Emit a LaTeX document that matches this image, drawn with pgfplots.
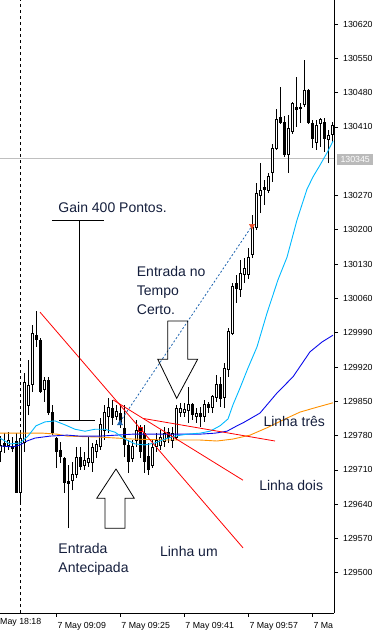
\documentclass[border=0pt]{standalone}
\usepackage{fontspec}
\setmainfont{Liberation Sans}
\usepackage{pgfplots}
\pgfplotsset{compat=1.18}
\definecolor{maCyan}{RGB}{0,185,255}
\definecolor{maBlue}{RGB}{10,10,235}
\definecolor{maOrange}{RGB}{255,145,0}
\definecolor{txt}{RGB}{20,30,60}
\definecolor{tradeblue}{RGB}{30,100,175}
\definecolor{sellred}{RGB}{232,80,45}
\begin{document}
\begin{tikzpicture}
\begin{axis}[name=ax, scale only axis, width=334pt, height=613pt,
  xmin=-0.075, xmax=83.425, ymin=129418, ymax=130669,
  axis x line*=bottom, axis y line*=right,
  axis line style={-, line width=0.8pt},
  tick align=outside, major tick length=4pt,
  tick style={black, line width=0.8pt},
  xtick={14,30,46,62,78},
  xticklabels={7 May 09:09,7 May 09:25,7 May 09:41,7 May 09:57,7 Ma},
  ytick={129500,129570,129640,129710,129780,129850,129920,129990,130060,130130,130200,130270,130410,130480,130550,130620},
  yticklabels={129500,129570,129640,129710,129780,129850,129920,129990,130060,130130,130200,130270,130410,130480,130550,130620},
  scaled y ticks=false, scaled x ticks=false,
  /pgf/number format/assume math mode=true,
  tick label style={font=\fontsize{8.8}{10}\selectfont},
  xticklabel style={anchor=base west, inner sep=0pt, xshift=1pt, yshift=-11.5pt},
  yticklabel style={anchor=west, inner sep=0pt, xshift=5pt},
  unbounded coords=jump]

% current price line and day separator
\addplot[black!25, line width=0.8pt] coordinates {(-0.075,130345)(83.425,130345)};
\addplot[black, line width=0.8pt, dash pattern=on 3pt off 3pt] coordinates {(5.05,129418)(5.05,130669)};

% wicks (low, high)
\addplot[black, line width=1pt] coordinates {
(0,129726)(0,129779)(0,nan)
(1,129745)(1,129785)(1,nan)
(2,129751)(2,129787)(2,nan)
(3,129747)(3,129777)(3,nan)
(4,129663)(4,129785)(4,nan)
(5,129645)(5,129787)(5,nan)
(6,129747)(6,129908)(6,nan)
(7,129822)(7,129934)(7,nan)
(8,129869)(8,130006)(8,nan)
(9,129961)(9,130034)(9,nan)
(10,129867)(10,129979)(10,nan)
(11,129849)(11,129900)(11,nan)
(12,129822)(12,129900)(12,nan)
(13,129781)(13,129842)(13,nan)
(14,129714)(14,129777)(14,nan)
(15,129724)(15,129767)(15,nan)
(16,129663)(16,129736)(16,nan)
(17,129591)(17,129720)(17,nan)
(18,129669)(18,129726)(18,nan)
(19,129693)(19,129757)(19,nan)
(20,129710)(20,129757)(20,nan)
(21,129710)(21,129747)(21,nan)
(22,129716)(22,129777)(22,nan)
(23,129706)(23,129765)(23,nan)
(24,129734)(24,129771)(24,nan)
(25,129751)(25,129816)(25,nan)
(26,129771)(26,129842)(26,nan)
(27,129785)(27,129857)(27,nan)
(28,129802)(28,129853)(28,nan)
(29,129812)(29,129842)(29,nan)
(30,129796)(30,129842)(30,nan)
(31,129736)(31,129842)(31,nan)
(32,129704)(32,129771)(32,nan)
(33,129726)(33,129771)(33,nan)
(34,129757)(34,129812)(34,nan)
(35,129734)(35,129802)(35,nan)
(36,129704)(36,129802)(36,nan)
(37,129700)(37,129765)(37,nan)
(38,129714)(38,129771)(38,nan)
(39,129747)(39,129785)(39,nan)
(40,129751)(40,129791)(40,nan)
(41,129757)(41,129798)(41,nan)
(42,129765)(42,129796)(42,nan)
(43,129755)(43,129798)(43,nan)
(44,129771)(44,129842)(44,nan)
(45,129818)(45,129847)(45,nan)
(46,129818)(46,129847)(46,nan)
(47,129806)(47,129879)(47,nan)
(48,129812)(48,129847)(48,nan)
(49,129806)(49,129836)(49,nan)
(50,129798)(50,129838)(50,nan)
(51,129808)(51,129853)(51,nan)
(52,129826)(52,129849)(52,nan)
(53,129826)(53,129863)(53,nan)
(54,129849)(54,129904)(54,nan)
(55,129838)(55,129900)(55,nan)
(56,129836)(56,129928)(56,nan)
(57,129900)(57,130000)(57,nan)
(58,129985)(58,130091)(58,nan)
(59,130051)(59,130108)(59,nan)
(60,130063)(60,130138)(60,nan)
(61,130091)(61,130142)(61,nan)
(62,130100)(62,130163)(62,nan)
(63,130142)(63,130230)(63,nan)
(64,130200)(64,130296)(64,nan)
(65,130234)(65,130336)(65,nan)
(66,130251)(66,130302)(66,nan)
(67,130275)(67,130316)(67,nan)
(68,130298)(68,130375)(68,nan)
(69,130363)(69,130447)(69,nan)
(70,130416)(70,130491)(70,nan)
(71,130349)(71,130432)(71,nan)
(72,130316)(72,130434)(72,nan)
(73,130396)(73,130461)(73,nan)
(74,130410)(74,130512)(74,nan)
(75,130418)(75,130459)(75,nan)
(76,130451)(76,130547)(76,nan)
(77,130416)(77,130487)(77,nan)
(78,130367)(78,130424)(78,nan)
(79,130363)(79,130424)(79,nan)
(80,130369)(80,130428)(80,nan)
(81,130359)(81,130428)(81,nan)
(82,130336)(82,130404)(82,nan)
(83,130379)(83,130420)(83,nan)
};

% bearish bodies (open, close)
\addplot[black, line width=3pt] coordinates {
(1,129765)(1,129757)(1,nan)
(3,129759)(3,129753)(3,nan)
(4,129769)(4,129663)(4,nan)
(9,129985)(9,129975)(9,nan)
(10,129975)(10,129869)(10,nan)
(12,129893)(12,129826)(12,nan)
(13,129828)(13,129785)(13,nan)
(14,129775)(14,129747)(14,nan)
(15,129751)(15,129736)(15,nan)
(16,129734)(16,129683)(16,nan)
(17,129687)(17,129681)(17,nan)
(20,129736)(20,129716)(20,nan)
(28,129836)(28,129816)(28,nan)
(30,129826)(30,129802)(30,nan)
(31,129796)(31,129761)(31,nan)
(32,129761)(32,129726)(32,nan)
(35,129793)(35,129747)(35,nan)
(36,129785)(36,129726)(36,nan)
(37,129738)(37,129710)(37,nan)
(42,129787)(42,129775)(42,nan)
(48,129844)(48,129822)(48,nan)
(50,129826)(50,129818)(50,nan)
(52,129844)(52,129836)(52,nan)
(55,129885)(55,129855)(55,nan)
(59,130091)(59,130079)(59,nan)
(66,130287)(66,130281)(66,nan)
(70,130430)(70,130418)(70,nan)
(71,130420)(71,130353)(71,nan)
(74,130451)(74,130445)(74,nan)
(75,130451)(75,130447)(75,nan)
(77,130485)(77,130418)(77,nan)
(78,130418)(78,130385)(78,nan)
(81,130420)(81,130385)(81,nan)
};

% bullish bodies: outline then white interior
\addplot[black, line width=3pt] coordinates {
(0,129747)(0,129759)(0,nan)
(2,129759)(2,129771)(2,nan)
(5,129663)(5,129775)(5,nan)
(6,129765)(6,129889)(6,nan)
(7,129842)(7,129883)(7,nan)
(8,129885)(8,129989)(8,nan)
(11,129875)(11,129893)(11,nan)
(18,129689)(18,129700)(18,nan)
(19,129700)(19,129736)(19,nan)
(21,129720)(21,129730)(21,nan)
(22,129726)(22,129734)(22,nan)
(23,129726)(23,129755)(23,nan)
(24,129747)(24,129761)(24,nan)
(25,129757)(25,129802)(25,nan)
(26,129791)(26,129828)(26,nan)
(27,129818)(27,129838)(27,nan)
(29,129820)(29,129830)(29,nan)
(33,129734)(33,129757)(33,nan)
(34,129771)(34,129791)(34,nan)
(38,129720)(38,129755)(38,nan)
(39,129757)(39,129771)(39,nan)
(40,129759)(40,129777)(40,nan)
(41,129767)(41,129785)(41,nan)
(43,129771)(43,129785)(43,nan)
(44,129777)(44,129836)(44,nan)
(45,129828)(45,129836)(45,nan)
(46,129828)(46,129834)(46,nan)
(47,129832)(47,129844)(47,nan)
(49,129818)(49,129826)(49,nan)
(51,129818)(51,129844)(51,nan)
(53,129838)(53,129859)(53,nan)
(54,129857)(54,129885)(54,nan)
(56,129857)(56,129916)(56,nan)
(57,129914)(57,129993)(57,nan)
(58,129989)(58,130085)(58,nan)
(60,130079)(60,130110)(60,nan)
(61,130108)(61,130122)(61,nan)
(62,130108)(62,130144)(62,nan)
(63,130149)(63,130204)(63,nan)
(64,130204)(64,130275)(64,nan)
(65,130271)(65,130281)(65,nan)
(67,130281)(67,130308)(67,nan)
(68,130316)(68,130365)(68,nan)
(69,130365)(69,130426)(69,nan)
(72,130353)(72,130406)(72,nan)
(73,130400)(73,130457)(73,nan)
(76,130455)(76,130485)(76,nan)
(79,130379)(79,130412)(79,nan)
(80,130416)(80,130426)(80,nan)
(82,130385)(82,130392)(82,nan)
(83,130394)(83,130412)(83,nan)
};
\addplot[white, line width=1pt, mark=-, mark size=1.5pt, mark options={black, solid, line width=1pt}] coordinates {
(0,129747)(0,129759)(0,nan)
(2,129759)(2,129771)(2,nan)
(5,129663)(5,129775)(5,nan)
(6,129765)(6,129889)(6,nan)
(7,129842)(7,129883)(7,nan)
(8,129885)(8,129989)(8,nan)
(11,129875)(11,129893)(11,nan)
(18,129689)(18,129700)(18,nan)
(19,129700)(19,129736)(19,nan)
(21,129720)(21,129730)(21,nan)
(22,129726)(22,129734)(22,nan)
(23,129726)(23,129755)(23,nan)
(24,129747)(24,129761)(24,nan)
(25,129757)(25,129802)(25,nan)
(26,129791)(26,129828)(26,nan)
(27,129818)(27,129838)(27,nan)
(29,129820)(29,129830)(29,nan)
(33,129734)(33,129757)(33,nan)
(34,129771)(34,129791)(34,nan)
(38,129720)(38,129755)(38,nan)
(39,129757)(39,129771)(39,nan)
(40,129759)(40,129777)(40,nan)
(41,129767)(41,129785)(41,nan)
(43,129771)(43,129785)(43,nan)
(44,129777)(44,129836)(44,nan)
(45,129828)(45,129836)(45,nan)
(46,129828)(46,129834)(46,nan)
(47,129832)(47,129844)(47,nan)
(49,129818)(49,129826)(49,nan)
(51,129818)(51,129844)(51,nan)
(53,129838)(53,129859)(53,nan)
(54,129857)(54,129885)(54,nan)
(56,129857)(56,129916)(56,nan)
(57,129914)(57,129993)(57,nan)
(58,129989)(58,130085)(58,nan)
(60,130079)(60,130110)(60,nan)
(61,130108)(61,130122)(61,nan)
(62,130108)(62,130144)(62,nan)
(63,130149)(63,130204)(63,nan)
(64,130204)(64,130275)(64,nan)
(65,130271)(65,130281)(65,nan)
(67,130281)(67,130308)(67,nan)
(68,130316)(68,130365)(68,nan)
(69,130365)(69,130426)(69,nan)
(72,130353)(72,130406)(72,nan)
(73,130400)(73,130457)(73,nan)
(76,130455)(76,130485)(76,nan)
(79,130379)(79,130412)(79,nan)
(80,130416)(80,130426)(80,nan)
(82,130385)(82,130392)(82,nan)
(83,130394)(83,130412)(83,nan)
};

% moving averages
\addplot[maOrange, line width=0.9pt] coordinates {
(-0.1,129785)(8.175,129785)(10.675,129785)(14.175,129783)(16.675,129779)(24.925,129777)(33.175,129773)(41.675,129771)(49.925,129771)(54.175,129769)(58.175,129773)(62.425,129781)(66.675,129796)(70.675,129812)(74.925,129828)(79.175,129838)(83.175,129847)};
\addplot[maBlue, line width=0.9pt] coordinates {
(-0.1,129759)(3.175,129757)(4.925,129761)(6.675,129769)(8.675,129775)(12.425,129779)(16.675,129781)(19.925,129779)(24.925,129779)(33.175,129783)(41.675,129783)(49.925,129783)(53.675,129785)(56.675,129789)(59.175,129800)(60.675,129806)(64.925,129826)(69.175,129867)(73.175,129900)(77.425,129951)(80.425,129971)(83.175,129985)};
\addplot[maCyan, line width=0.9pt] coordinates {
(-0.1,129775)(2.425,129763)(4.925,129765)(6.925,129779)(8.925,129800)(11.175,129808)(13.675,129810)(16.175,129802)(18.675,129793)(21.175,129789)(23.675,129793)(26.175,129793)(28.675,129787)(31.175,129773)(33.675,129763)(36.175,129761)(38.675,129765)(41.175,129773)(43.675,129779)(46.675,129783)(49.925,129785)(52.425,129789)(54.925,129800)(56.925,129814)(58.175,129843)(59.925,129877)(61.925,129918)(64.175,129961)(66.675,130030)(69.425,130098)(71.675,130144)(74.175,130220)(76.675,130283)(78.175,130308)(79.925,130332)(81.675,130357)(83.175,130381)};

% trend lines
\addplot[red, line width=0.8pt] coordinates {(9.925,130032)(60.675,129551)};
\addplot[red, line width=0.8pt] coordinates {(28.175,129853)(60.675,129689)};
\addplot[red, line width=0.8pt] coordinates {(35.75,129815)(68.675,129769)};

% trade line and markers
\addplot[tradeblue, line width=0.8pt, dash pattern=on 2pt off 2pt] coordinates {(29.925,129808)(62.925,130208)};
\addplot[only marks, mark=triangle*, mark size=3pt, mark options={fill=tradeblue, draw=tradeblue}] coordinates {(29.925,129805)};
\addplot[only marks, mark=triangle*, mark size=3pt, mark options={fill=sellred, draw=sellred, rotate=180}] coordinates {(62.925,130208)};
\addplot[only marks, mark=square*, mark size=2pt, mark options={fill=black, draw=red, line width=1pt}] coordinates {(35,129793)};

% annotation lines and arrows
\addplot[black, line width=0.8pt] coordinates {(12.925,130220)(25.925,130220)};
\addplot[black, line width=0.8pt] coordinates {(19.75,130220)(19.75,129812)};
\addplot[black, line width=0.8pt] coordinates {(14.75,129812)(23.675,129812)};
\addplot[black, line width=0.8pt] coordinates {(41.85,130014)(46.85,130014)(46.85,129936)(49.35,129936)(44.1,129856)(39.35,129936)(41.85,129936)(41.85,130014)};
\addplot[black, line width=0.8pt] coordinates {(28.93,129712)(33.5,129652)(31.18,129652)(31.18,129591)(26.18,129591)(26.18,129652)(24.1,129652)(28.93,129712)};

% texts
\begin{scope}[every node/.style={anchor=base west, inner sep=0pt, text=txt, font=\fontsize{14}{16}\selectfont}]
\node at (axis cs:14.5,130236) {Gain 400 Pontos.};
\node at (axis cs:34.1,130104) {Entrada no};
\node at (axis cs:34.1,130065) {Tempo};
\node at (axis cs:34.1,130027) {Certo.};
\node at (axis cs:14.5,129540) {Entrada};
\node at (axis cs:14.5,129501) {Antecipada};
\node at (axis cs:39.9,129534) {Linha um};
\node at (axis cs:64.7,129668) {Linha dois};
\node at (axis cs:65.75,129798) {Linha três};
\end{scope}
\end{axis}
\node[anchor=base west, inner sep=0pt, font=\fontsize{8.8}{10}\selectfont] at ([yshift=-11.5pt]ax.south west) {May 18:18};
\node[fill=black!27, text=white, inner sep=0pt, minimum width=36pt, minimum height=11pt, anchor=west, font=\fontsize{8.8}{10}\selectfont] at ([xshift=3pt,yshift=-159.5pt]ax.north east) {130345};
\pgfresetboundingbox
\path[use as bounding box] ([yshift=-18pt]ax.south west) rectangle ([xshift=56pt]ax.north east);
\end{tikzpicture}
\end{document}
